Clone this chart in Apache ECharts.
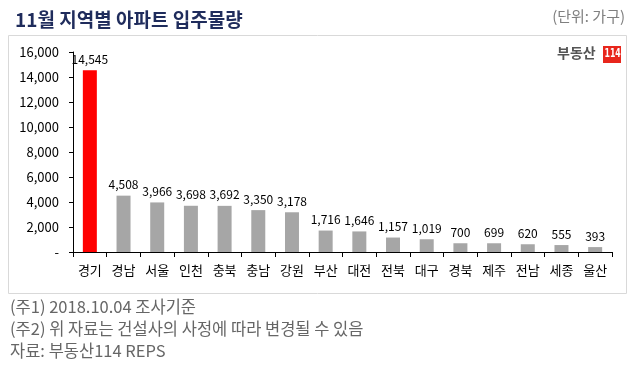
<!DOCTYPE html>
<html><head><meta charset="utf-8">
<script src="https://cdn.jsdelivr.net/npm/echarts@6/dist/echarts.min.js"></script>
<style>html,body{margin:0;padding:0;background:#fff}#c{width:636px;height:370px}</style>
</head><body><div id="c"></div>
<script>
const categories = ['경기','경남','서울','인천','충북','충남','강원','부산','대전','전북','대구','경북','제주','전남','세종','울산'];
const values = [14545,4508,3966,3698,3692,3350,3178,1716,1646,1157,1019,700,699,620,555,393];
const yTicks = [0,2000,4000,6000,8000,10000,12000,14000,16000];
const highlightIndex = 0;

const F = '"Noto Sans CJK KR", sans-serif';
const chart = echarts.init(document.getElementById('c'));
chart.setOption({
  animation:false,
  title:{text:'11월 지역별 아파트 입주물량', left:10, top:5,
    textStyle:{fontFamily:F, fontSize:19, fontWeight:'bold', color:'#1f2c5c'}},
  grid:{left:73, right:24, top:52, bottom:118},
  xAxis:{type:'category', data:categories,
    axisLine:{lineStyle:{color:'#000'}},
    axisTick:{show:true, length:5, lineStyle:{color:'#000'}},
    axisLabel:{fontFamily:F, fontSize:13, color:'#000', margin:12, interval:0}},
  yAxis:{type:'value', min:yTicks[0], max:yTicks[yTicks.length-1], interval:2000,
    splitLine:{show:false},
    axisLine:{show:true, lineStyle:{color:'#000'}},
    axisTick:{show:true, length:4, lineStyle:{color:'#000'}},
    axisLabel:{fontFamily:F, fontSize:13, color:'#000', margin:14,
      formatter:v=> v===0 ? '-' : v.toLocaleString('en-US')}},
  series:[{type:'bar', barWidth:14,
    data: values.map((v,i)=>({value:v, itemStyle:{color: i===highlightIndex ? '#ff0000' : '#a6a6a6'}})),
    label:{show:true, position:'top', distance:5, fontFamily:F, fontSize:12, color:'#000',
      formatter:p=>p.value.toLocaleString('en-US')}}],
  graphic:[
    {type:'rect', shape:{x:8.5,y:35.5,width:618,height:258}, style:{fill:'none', stroke:'#d9d9d9', lineWidth:1}, z:-1},
    {type:'text', right:11, top:9, style:{text:'(단위: 가구)', font:'15px '+F, fill:'#7f7f7f'}},
    {type:'text', left:557, top:46, style:{text:'부동산', font:'bold 14px '+F, fill:'#555'}},
    {type:'rect', shape:{x:603,y:46,width:18,height:17}, style:{fill:'#e8261c'}},
    {type:'text', x:604.5, y:47.5, scaleX:0.6, style:{text:'114', font:'bold 13px "DejaVu Sans", sans-serif', fill:'#fff'}},
    {type:'text', left:10, top:298, style:{text:'(주1) 2018.10.04 조사기준', font:'16.5px '+F, fill:'#666'}},
    {type:'text', left:10, top:320, style:{text:'(주2) 위 자료는 건설사의 사정에 따라 변경될 수 있음', font:'16.5px '+F, fill:'#666'}},
    {type:'text', left:10, top:342, style:{text:'자료: 부동산114 REPS', font:'16.5px '+F, fill:'#666'}}
  ]
});
</script></body></html>
